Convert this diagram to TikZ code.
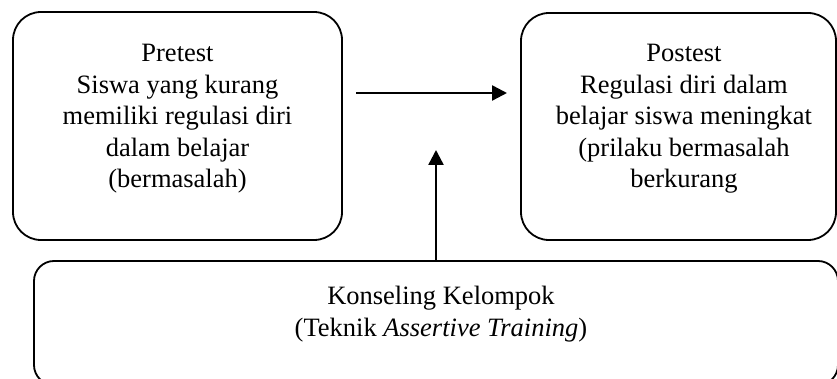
\documentclass[tikz,border=0pt]{standalone}
\usepackage{fontspec}
\setmainfont{Liberation Serif}
\usetikzlibrary{arrows.meta}
\begin{document}
\begin{tikzpicture}[x=1pt,y=-1pt,
  bigbox/.style={draw, line width=1.8pt, rounded corners=28pt, inner sep=0pt},
  txt/.style={align=center, inner sep=0pt, font=\fontsize{26.5}{31.5}\selectfont},
  conn/.style={line width=2.4pt, -{Triangle[length=15pt,width=15pt]}}]
\useasboundingbox (0,0) rectangle (837,379);
\node[bigbox, minimum width=329pt, minimum height=228pt] (pre) at (177.5,126) {};
\node[bigbox, minimum width=315pt, minimum height=227pt] (post) at (678.5,126.5) {};
\node[bigbox, rounded corners=20pt, minimum width=804pt, minimum height=124pt] (kk) at (436,323) {};
\node[txt] (pret) at (177.5,119) {Pretest\\Siswa yang kurang\\memiliki regulasi diri\\dalam belajar\\(bermasalah)};
\node[txt] (postt) at (684,119) {Postest\\Regulasi diri dalam\\belajar siswa meningkat\\(prilaku bermasalah\\berkurang};
\node[txt] (kkt) at (441,314) {Konseling Kelompok\\(Teknik \textit{Assertive Training})};
\coordinate (a1) at (356,93);
\coordinate (a2) at (507,93);
\coordinate (b2) at (436,150);
\draw[conn] (a1) -- (a2);
\draw[conn] (kk.north) -- (b2);
\end{tikzpicture}
\end{document}
